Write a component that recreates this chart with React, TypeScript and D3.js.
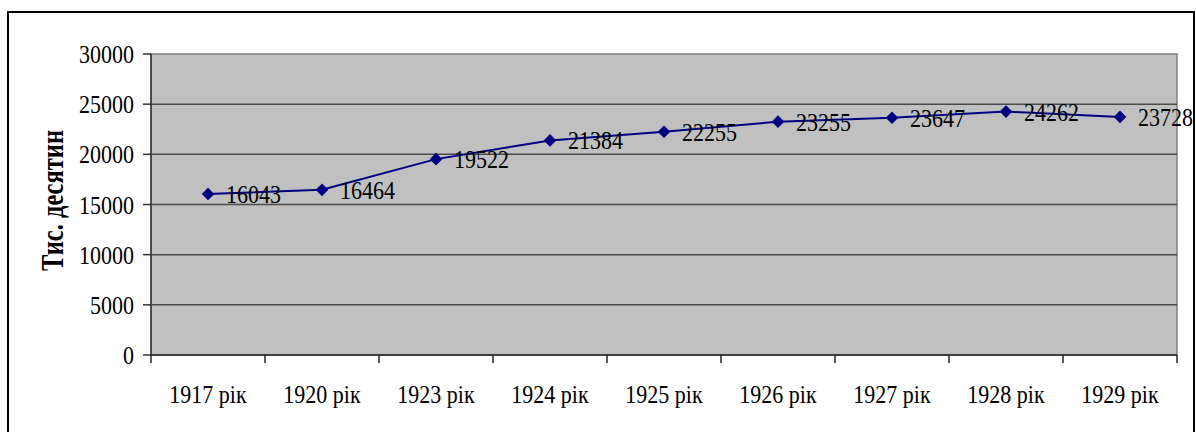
import React from "react";
import * as d3 from "d3";

const YEARS = ["1917 рік", "1920 рік", "1923 рік", "1924 рік", "1925 рік", "1926 рік", "1927 рік", "1928 рік", "1929 рік"];
const AREA = [16043, 16464, 19522, 21384, 22255, 23255, 23647, 24262, 23728];
const Y_TICKS = [0, 5000, 10000, 15000, 20000, 25000, 30000];
const Y_TITLE = "Тис. десятин";

const W = 1196, H = 432;
const plot = { left: 151, top: 54, right: 1177, bottom: 355 };
const FONT = "Times New Roman, Liberation Serif, DejaVu Serif, serif";
const SY = 1.18; // glyphs look vertically stretched in the reference

export default function App() {
  const x = d3.scaleBand().domain(YEARS).range([plot.left, plot.right]);
  const y = d3.scaleLinear().domain([0, 30000]).range([plot.bottom, plot.top]);
  const cx = (d: string) => (x(d) ?? 0) + x.bandwidth() / 2;

  const line = d3.line<number>()
    .x((_, i) => cx(YEARS[i]))
    .y((v) => y(v));
  const diamond = d3.symbol().type(d3.symbolSquare).size(80)();

  const txt = (tx: number, ty: number, s: string, anchor: string, key: string) => (
    <text key={key} transform={`translate(${tx},${ty}) scale(1,${SY})`}
      textAnchor={anchor} style={{ fontFamily: FONT, fontSize: 22 }} fill="#000">{s}</text>
  );

  return (
    <svg width={W} height={H} style={{ position: "absolute", left: 0, top: 0, background: "#fff" }}>
      {/* outer frame */}
      <rect x={8} y={12} width={1186} height={440} fill="#fff" stroke="#000" strokeWidth={2} />

      {/* plot area */}
      <rect x={plot.left} y={plot.top} width={plot.right - plot.left} height={plot.bottom - plot.top}
        fill="#c0c0c0" stroke="#808080" strokeWidth={1.5} />

      {/* gridlines */}
      {Y_TICKS.filter((t) => t > 0 && t < 30000).map((t) => (
        <line key={"g" + t} x1={plot.left} x2={plot.right} y1={y(t)} y2={y(t)} stroke="#4a4a4a" strokeWidth={1.5} />
      ))}

      {/* y axis */}
      <line x1={plot.left} x2={plot.left} y1={plot.top} y2={plot.bottom} stroke="#333" strokeWidth={1.5} />
      {Y_TICKS.map((t) => (
        <g key={"yt" + t}>
          <line x1={plot.left - 8} x2={plot.left} y1={y(t)} y2={y(t)} stroke="#333" strokeWidth={1.5} />
          {txt(134, y(t) + 9, String(t), "end", "ytl" + t)}
        </g>
      ))}

      {/* x axis */}
      <line x1={plot.left} x2={plot.right} y1={plot.bottom} y2={plot.bottom} stroke="#222" strokeWidth={1.5} />
      {[...YEARS.map((d) => x(d) ?? 0), plot.right].map((v, i) => (
        <line key={"xt" + i} x1={v} x2={v} y1={plot.bottom} y2={plot.bottom + 8} stroke="#222" strokeWidth={1.5} />
      ))}
      {YEARS.map((d) => txt(cx(d), 403, d, "middle", "xl" + d))}

      {/* y title */}
      <text transform={`translate(63,${200.5}) rotate(-90)`} textAnchor="middle"
        style={{ fontFamily: FONT, fontWeight: "bold", fontSize: 32 }}
        textLength={141} lengthAdjust="spacingAndGlyphs" fill="#000">{Y_TITLE}</text>

      {/* series */}
      <path d={line(AREA) ?? ""} fill="none" stroke="#000080" strokeWidth={2} />
      {AREA.map((v, i) => (
        <path key={"m" + i} d={diamond ?? ""} transform={`translate(${cx(YEARS[i])},${y(v)}) rotate(45)`} fill="#000080" />
      ))}
      {AREA.map((v, i) => txt(cx(YEARS[i]) + 18, y(v) + 9, String(v), "start", "dl" + i))}
    </svg>
  );
}
